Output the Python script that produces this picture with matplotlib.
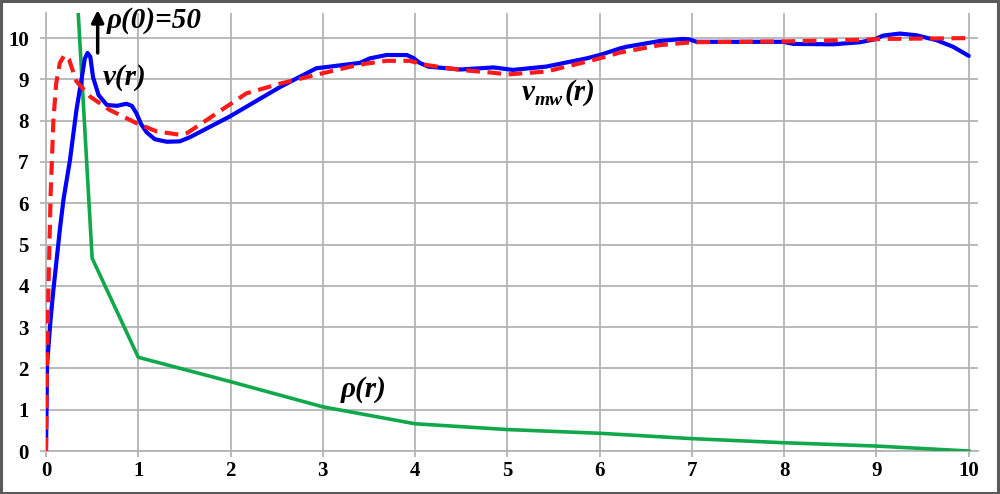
import matplotlib
matplotlib.use("Agg")
import matplotlib.pyplot as plt
import matplotlib.transforms as mtransforms
from matplotlib.patches import Rectangle

# density rho(r)
rho_r = [0, 0.25, 0.5, 1, 2, 3, 4, 5, 6, 7, 8, 9, 10]
rho = [50, 14.5, 4.67, 2.27, 1.68, 1.07, 0.66, 0.52, 0.43, 0.30, 0.20, 0.12, 0.0]

# rotation curve v(r)
v_r = [0, 0.012, 0.05, 0.08, 0.15, 0.19, 0.26, 0.33, 0.39, 0.42, 0.45, 0.48,
       0.51, 0.57, 0.66, 0.77, 0.87, 0.93, 0.98, 1.03, 1.09, 1.18, 1.31, 1.45, 1.56,
       1.99, 2.54, 2.93, 3.08, 3.4, 3.51, 3.69, 3.91, 3.98, 4.05, 4.14, 4.49, 4.85,
       5.06, 5.42, 5.86, 6.0, 6.22, 6.29, 6.65, 6.9, 6.97, 7.05, 7.99, 8.1, 8.53,
       8.82, 8.98, 9.07, 9.25, 9.43, 9.65, 9.83, 10.0]
v = [0, 2.1, 3.2, 3.9, 5.36, 6.1, 7.05, 8.26, 9.07, 9.5, 9.64, 9.55,
     9.05, 8.62, 8.38, 8.36, 8.41, 8.36, 8.18, 7.92, 7.72, 7.55, 7.49, 7.5, 7.6,
     8.1, 8.82, 9.27, 9.31, 9.4, 9.51, 9.59, 9.59, 9.52, 9.4, 9.31, 9.24, 9.29,
     9.23, 9.31, 9.51, 9.59, 9.75, 9.79, 9.93, 9.98, 9.97, 9.91, 9.91, 9.86, 9.85,
     9.9, 9.97, 10.06, 10.11, 10.07, 9.95, 9.79, 9.57]

# model curve v_mw(r)
vmw_r = [0, 0.01, 0.03, 0.05, 0.08, 0.11, 0.15, 0.2, 0.25, 0.33, 0.48, 0.69,
         0.91, 0.98, 1.2, 1.45, 1.53, 1.83, 2.17, 2.54, 3.0, 3.4, 3.69, 3.94,
         4.12, 4.49, 4.85, 5.0, 5.42, 5.86, 6.0, 6.22, 6.65, 7.0, 8.0, 8.82,
         9.07, 10.0]
vmw = [0, 2.0, 4.3, 6.2, 8.0, 8.9, 9.4, 9.59, 9.48, 8.95, 8.58, 8.26,
       8.02, 7.94, 7.74, 7.66, 7.7, 8.15, 8.66, 8.9, 9.15, 9.36, 9.45, 9.45,
       9.35, 9.23, 9.16, 9.12, 9.19, 9.43, 9.51, 9.65, 9.83, 9.9, 9.92, 9.96,
       9.98, 10.0]

xticks = list(range(0, 11))
yticks = list(range(0, 11))

SERIF = "Liberation Serif"
GRID = "#b4b4b4"

fig = plt.figure(figsize=(10, 4.94), dpi=100)
ax = fig.add_axes([0.046, 0.087, 0.932, 0.886])

ax.plot(rho_r, rho, color="#10a84a", lw=2.6, zorder=3)
ax.plot(v_r, v, color="#0000ff", lw=3, zorder=4, solid_capstyle="round",
        solid_joinstyle="round")
ax.plot(vmw_r, vmw, color="#ff1a1a", lw=3, dashes=(3.3, 1.8), zorder=5)

ax.set_xlim(0, 10.1)
ax.set_ylim(0, 10.6)
ax.set_xticks(xticks)
ax.set_yticks(yticks)
ax.grid(True, color=GRID, lw=1.3)
ax.set_axisbelow(True)
for side in ["top", "right"]:
    ax.spines[side].set_visible(False)
for side in ["left", "bottom"]:
    ax.spines[side].set_color(GRID)
    ax.spines[side].set_linewidth(1.3)
ax.tick_params(axis="both", direction="out", length=4.5, width=1.3, color=GRID)
ax.tick_params(axis="x", pad=3)
ax.tick_params(axis="y", pad=8)
for lab in ax.get_xticklabels() + ax.get_yticklabels():
    lab.set_fontfamily(SERIF)
    lab.set_fontweight("bold")
    lab.set_fontsize(15)

lab_kw = dict(fontfamily=SERIF, fontweight="bold", fontstyle="italic",
              fontsize=21, color="black")

# arrow to the off-scale centre value
ax.annotate("", xy=(0.56, 10.68), xytext=(0.56, 9.64),
            arrowprops=dict(arrowstyle="-|>", lw=2.5, color="black",
                            mutation_scale=18, shrinkA=0, shrinkB=0),
            annotation_clip=False, zorder=6)
ax.text(0.66, 10.42, "ρ(0)=50", va="center", ha="left", clip_on=False, **lab_kw)
ax.text(0.62, 9.04, "v(r)", va="center", ha="left", **lab_kw)
ax.text(3.19, 1.5, "ρ(r)", va="center", ha="left", **lab_kw)

# v_mw(r) with a subscript, built from three pieces
fig.canvas.draw()
t1 = ax.text(5.16, 8.5, "v", va="baseline", ha="left", **lab_kw)
r = fig.canvas.get_renderer()
w1 = t1.get_window_extent(r).width
sub_kw = dict(lab_kw)
sub_kw["fontsize"] = 14
t2 = ax.text(5.16, 8.5, "mw", va="baseline", ha="left",
             transform=mtransforms.offset_copy(ax.transData, fig, x=w1, y=-5, units="dots"),
             **sub_kw)
w2 = t2.get_window_extent(r).width
ax.text(5.16, 8.5, "(r)", va="baseline", ha="left",
        transform=mtransforms.offset_copy(ax.transData, fig, x=w1 + w2 + 1, y=0, units="dots"),
        **lab_kw)

# border around the whole picture
fig.patches.append(Rectangle((0.001, 0.002), 0.997, 0.995, transform=fig.transFigure,
                             fill=False, edgecolor="#5a5a5a", lw=2.2))

fig.savefig("out.png", dpi=100)
